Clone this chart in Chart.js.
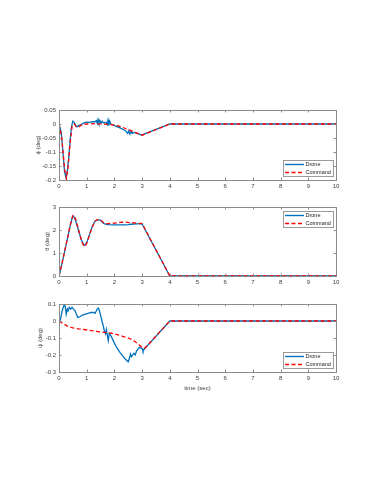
<!DOCTYPE html>
<html>
<head>
<meta charset="utf-8">
<script src="https://cdn.jsdelivr.net/npm/chart.js@4.4.1/dist/chart.umd.min.js"></script>
<style>
  body { margin: 0; background: #fff; width: 383px; height: 495px; position: relative; overflow: hidden; }
  canvas { position: absolute; left: 0; }
</style>
</head>
<body>
<canvas id="phiChart" width="383" height="95" style="top:100px"></canvas>
<canvas id="thetaChart" width="383" height="94" style="top:197px"></canvas>
<canvas id="psiChart" width="383" height="98" style="top:294px"></canvas>
<script>
// roll (phi)
const phiDroneT = [0, 0.08, 0.15, 0.2, 0.25, 0.3, 0.35, 0.4, 0.45, 0.5, 0.55, 0.6, 0.65, 0.7, 0.8, 0.9, 1.0, 1.1, 1.2, 1.3, 1.35, 1.38, 1.41, 1.44, 1.48, 1.52, 1.56, 1.6, 1.7, 1.74, 1.77, 1.8, 1.83, 1.87, 2.0, 2.2, 2.4, 2.48, 2.52, 2.56, 2.6, 2.64, 2.7, 2.8, 2.9, 3.0, 3.05, 4, 10];
const phiDrone = [0, -0.03, -0.11, -0.17, -0.19, -0.17, -0.12, -0.06, -0.01, 0.01, 0.006, -0.004, -0.01, -0.006, -0.002, 0.004, 0.007, 0.006, 0.008, 0.008, 0.012, 0.002, 0.016, 0.004, 0.012, 0.003, 0.01, 0.004, 0.006, -0.002, 0.014, -0.006, 0.01, 0, -0.006, -0.014, -0.024, -0.034, -0.024, -0.036, -0.026, -0.034, -0.03, -0.033, -0.036, -0.04, -0.037, 0, 0];
const phiCmdT = [0, 0.1, 0.2, 0.27, 0.33, 0.4, 0.47, 0.55, 0.62, 0.7, 0.8, 1.0, 1.3, 1.6, 1.9, 2.1, 2.3, 2.5, 2.7, 2.9, 3.0, 4, 10];
const phiCmd = [0, -0.05, -0.16, -0.195, -0.15, -0.07, -0.01, 0, -0.01, -0.012, -0.004, 0, 0.001, 0, -0.002, -0.006, -0.012, -0.02, -0.028, -0.036, -0.04, 0, 0];

// pitch (theta)
const thetaDroneT = [0, 0.1, 0.2, 0.3, 0.4, 0.48, 0.53, 0.6, 0.7, 0.8, 0.88, 0.93, 1.0, 1.1, 1.2, 1.3, 1.4, 1.5, 1.6, 1.7, 1.8, 2.0, 2.2, 2.4, 2.5, 2.6, 2.8, 2.95, 3.0, 4, 10];
const thetaDrone = [0, 0.5, 1.05, 1.6, 2.15, 2.55, 2.6, 2.4, 2.0, 1.6, 1.38, 1.33, 1.45, 1.8, 2.15, 2.38, 2.45, 2.42, 2.3, 2.24, 2.23, 2.22, 2.22, 2.22, 2.23, 2.25, 2.27, 2.28, 2.26, 0, 0];
const thetaCmdT = [0, 0.1, 0.2, 0.3, 0.4, 0.5, 0.55, 0.62, 0.72, 0.82, 0.9, 0.95, 1.02, 1.1, 1.2, 1.3, 1.4, 1.5, 1.6, 1.7, 1.8, 2.0, 2.2, 2.4, 2.6, 2.8, 3.0, 4, 10];
const thetaCmd = [0, 0.5, 1.05, 1.6, 2.2, 2.63, 2.62, 2.4, 1.95, 1.5, 1.3, 1.3, 1.48, 1.78, 2.12, 2.38, 2.46, 2.43, 2.33, 2.28, 2.28, 2.3, 2.33, 2.34, 2.32, 2.3, 2.28, 0, 0];

// yaw (psi)
const psiDroneT = [0, 0.05, 0.1, 0.15, 0.2, 0.23, 0.26, 0.3, 0.33, 0.37, 0.42, 0.47, 0.52, 0.58, 0.63, 0.68, 0.75, 0.85, 0.95, 1.05, 1.15, 1.25, 1.3, 1.35, 1.38, 1.42, 1.46, 1.5, 1.55, 1.6, 1.64, 1.68, 1.71, 1.75, 1.78, 1.81, 1.85, 1.9, 2.0, 2.1, 2.2, 2.3, 2.4, 2.5, 2.55, 2.58, 2.62, 2.66, 2.7, 2.75, 2.8, 2.85, 2.9, 2.95, 3.0, 3.03, 3.08, 4, 10];
const psiDrone = [0, 0.005, 0.05, 0.08, 0.1, 0.08, 0.04, 0.07, 0.06, 0.08, 0.07, 0.08, 0.07, 0.06, 0.04, 0.02, 0.025, 0.035, 0.04, 0.045, 0.05, 0.05, 0.045, 0.06, 0.07, 0.076, 0.06, 0.035, 0, -0.03, -0.06, -0.075, -0.05, -0.09, -0.115, -0.075, -0.08, -0.095, -0.13, -0.16, -0.185, -0.205, -0.225, -0.24, -0.215, -0.195, -0.21, -0.2, -0.19, -0.2, -0.175, -0.165, -0.155, -0.158, -0.162, -0.178, -0.165, 0, 0];
const psiCmdT = [0, 0.15, 0.3, 0.5, 0.7, 0.9, 1.1, 1.3, 1.5, 1.7, 1.9, 2.1, 2.3, 2.5, 2.7, 2.85, 3.0, 3.1, 4, 10];
const psiCmd = [0, -0.015, -0.03, -0.04, -0.046, -0.05, -0.055, -0.06, -0.064, -0.068, -0.072, -0.08, -0.09, -0.1, -0.115, -0.135, -0.155, -0.16, 0, 0];

const seriesNames = ["Drone", "Command"];

const FONT = "'Liberation Sans', Arial, sans-serif";
const BLUE = "#0072bd";
const RED = "#ff0000";
const AXIS = "#8c8c8c";
const TEXT = "#404040";

function pts(t, v) {
  return t.map((x, i) => ({ x: x, y: v[i] }));
}

// MATLAB style box, inner ticks and legend inside the axes
const boxPlugin = {
  id: "box",
  afterDraw(chart, args, o) {
    const { ctx, chartArea: a, scales } = chart;
    ctx.save();
    ctx.strokeStyle = AXIS;
    ctx.lineWidth = 1;
    ctx.beginPath();
    scales.x.ticks.forEach(t => {
      const px = Math.round(scales.x.getPixelForValue(t.value)) + 0.5;
      ctx.moveTo(px, a.bottom); ctx.lineTo(px, a.bottom - 2.5);
      ctx.moveTo(px, a.top); ctx.lineTo(px, a.top + 2.5);
    });
    scales.y.ticks.forEach(t => {
      const py = Math.round(scales.y.getPixelForValue(t.value)) + 0.5;
      ctx.moveTo(a.left, py); ctx.lineTo(a.left + 2.5, py);
      ctx.moveTo(a.right, py); ctx.lineTo(a.right - 2.5, py);
    });
    ctx.stroke();
    ctx.strokeRect(Math.round(a.left) + 0.5, Math.round(a.top) + 0.5,
      Math.round(a.right - a.left), Math.round(a.bottom - a.top));

    // legend
    const w = 50, h = 16;
    const lx = Math.round(a.right) - 3 - w;
    const ly = o.corner === "tr" ? Math.round(a.top) + 4 : Math.round(a.bottom) - 4 - h;
    ctx.fillStyle = "#fff";
    ctx.fillRect(lx, ly, w, h);
    ctx.strokeStyle = "#9a9a9a";
    ctx.strokeRect(lx + 0.5, ly + 0.5, w, h);
    chart.data.datasets.forEach((ds, i) => {
      const ry = ly + 4.5 + i * 8;
      ctx.beginPath();
      ctx.strokeStyle = ds.borderColor;
      ctx.lineWidth = 1.4;
      ctx.setLineDash(ds.borderDash || []);
      ctx.moveTo(lx + 2, ry); ctx.lineTo(lx + 21, ry);
      ctx.stroke();
      ctx.setLineDash([]);
      ctx.fillStyle = "#222";
      ctx.font = "5.5px " + FONT;
      ctx.textBaseline = "middle";
      ctx.fillText(ds.label, lx + 22.5, ry);
    });
    ctx.restore();
  }
};

function makeChart(id, cfg) {
  const ctx = document.getElementById(id).getContext("2d");
  new Chart(ctx, {
    type: "line",
    data: {
      datasets: [{
        label: seriesNames[0],
        data: pts(cfg.droneT, cfg.drone),
        borderColor: BLUE,
        borderWidth: 1.3,
        pointRadius: 0,
        tension: 0,
        order: 1
      }, {
        label: seriesNames[1],
        data: pts(cfg.cmdT, cfg.cmd),
        borderColor: RED,
        borderWidth: 1.3,
        borderDash: [4, 2.5],
        pointRadius: 0,
        tension: 0,
        order: 0
      }]
    },
    options: {
      responsive: false,
      animation: false,
      events: [],
      layout: { padding: { left: cfg.padLeft, right: 47, top: 10, bottom: 0 } },
      plugins: {
        legend: { display: false },
        tooltip: { enabled: false },
        box: { corner: cfg.corner }
      },
      scales: {
        x: {
          type: "linear",
          min: 0,
          max: 10,
          ticks: { stepSize: 1, color: TEXT, font: { size: 6, family: FONT }, padding: 3, maxRotation: 0 },
          grid: { display: false, drawTicks: false },
          border: { display: false },
          title: {
            display: !!cfg.xTitle,
            text: cfg.xTitle || "",
            color: TEXT,
            font: { size: 6, family: FONT },
            padding: { top: 0, bottom: 0 }
          },
          afterFit(s) { s.height = cfg.xHeight; }
        },
        y: {
          min: cfg.yMin,
          max: cfg.yMax,
          ticks: {
            stepSize: cfg.yStep,
            color: TEXT,
            font: { size: 6, family: FONT },
            padding: 3,
            callback: v => String(+v.toFixed(3))
          },
          grid: { display: false, drawTicks: false },
          border: { display: false },
          title: {
            display: true,
            text: cfg.yTitle,
            color: TEXT,
            font: { size: 6, family: FONT },
            padding: { top: 0, bottom: 0 }
          },
          afterFit(s) { s.width = 59 - cfg.padLeft; }
        }
      }
    },
    plugins: [boxPlugin]
  });
}

makeChart("phiChart", {
  droneT: phiDroneT, drone: phiDrone, cmdT: phiCmdT, cmd: phiCmd,
  yMin: -0.2, yMax: 0.05, yStep: 0.05, yTitle: "ϕ (deg)",
  padLeft: 35, xHeight: 15, corner: "br"
});
makeChart("thetaChart", {
  droneT: thetaDroneT, drone: thetaDrone, cmdT: thetaCmdT, cmd: thetaCmd,
  yMin: 0, yMax: 3, yStep: 1, yTitle: "θ (deg)",
  padLeft: 44, xHeight: 15, corner: "tr"
});
makeChart("psiChart", {
  droneT: psiDroneT, drone: psiDrone, cmdT: psiCmdT, cmd: psiCmd,
  yMin: -0.3, yMax: 0.1, yStep: 0.1, yTitle: "ψ (deg)",
  padLeft: 37, xHeight: 20, corner: "br", xTitle: "time (sec)"
});
</script>
</body>
</html>
